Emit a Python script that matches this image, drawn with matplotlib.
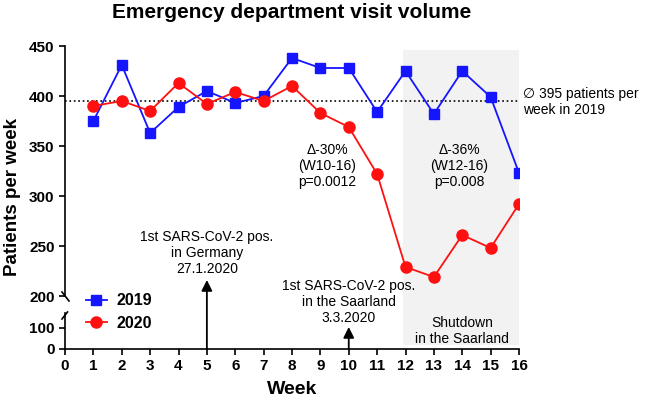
import numpy as np
import matplotlib
matplotlib.use("Agg")
import matplotlib.pyplot as plt
from matplotlib.patches import Rectangle
from matplotlib.lines import Line2D
import matplotlib.transforms as mtransforms

plt.rcParams['font.family'] = ['Liberation Sans', 'DejaVu Sans']

weeks = list(range(1, 17))
v2019 = [375, 431, 363, 389, 405, 393, 400, 438, 428, 428, 384, 425, 382, 425, 399, 323]
v2020 = [390, 395, 385, 413, 392, 404, 395, 410, 383, 369, 322, 229, 219, 261, 248, 292]
mean_2019 = 395
xticks = list(range(0, 17))

W, H = 645, 401
fig = plt.figure(figsize=(W / 100, H / 100), dpi=100)

def fx(px):
    return px / W

def fy(py):
    return 1 - py / H

# upper part 200-450, lower part 0-170 (broken axis)
ax_top = fig.add_axes([fx(65), fy(296), fx(519) - fx(65), fy(46) - fy(296)])
ax_bot = fig.add_axes([fx(65), fy(349), fx(519) - fx(65), fy(313) - fy(349)])
for ax in (ax_top, ax_bot):
    ax.set_facecolor('none')
    ax.set_xlim(0, 16)
    ax.spines['top'].set_visible(False)
    ax.spines['right'].set_visible(False)
    ax.spines['left'].set_linewidth(1.2)
    ax.spines['bottom'].set_linewidth(1.2)
    ax.tick_params(width=1.2, length=4, labelsize=11)
    for lab in ax.get_xticklabels() + ax.get_yticklabels():
        lab.set_fontweight('bold')

ax_top.set_ylim(200, 450)
ax_top.set_yticks([200, 250, 300, 350, 400, 450])
ax_top.spines['bottom'].set_visible(False)
ax_top.tick_params(axis='x', bottom=False, labelbottom=False)

ax_bot.set_ylim(0, 170)
ax_bot.set_yticks([0, 100])
ax_bot.set_xticks(xticks)
for ax in (ax_top, ax_bot):
    for lab in ax.get_xticklabels() + ax.get_yticklabels():
        lab.set_fontweight('bold')

# shutdown shading across both parts
trans = mtransforms.blended_transform_factory(ax_top.transData, fig.transFigure)
fig.add_artist(Rectangle((11.9, fy(345)), 16 - 11.9, fy(50) - fy(345),
                         transform=trans, facecolor='#f2f2f2', edgecolor='none', zorder=-1))

# break marks
fig.add_artist(Line2D([fx(62), fx(69)], [fy(292), fy(301)], color='k', lw=1.2))
fig.add_artist(Line2D([fx(62), fx(67.5)], [fy(319), fy(312)], color='k', lw=1.2))

ax_top.hlines(mean_2019, 0, 16, colors='k', linestyles=':', lw=1.2, zorder=1)
ax_top.plot(weeks, v2019, color='#1515ff', marker='s', markersize=7.5, lw=1.3,
            label='2019', zorder=3)
ax_top.plot(weeks, v2020, color='#ff1010', marker='o', markersize=8, lw=1.3,
            label='2020', zorder=3)

leg = ax_top.legend(loc='center left', bbox_to_anchor=(fx(86), fy(312)),
                    bbox_transform=fig.transFigure, frameon=False, borderpad=0,
                    borderaxespad=0, handlelength=1.3, handletextpad=0.6,
                    labelspacing=0.45, prop={'weight': 'bold', 'size': 11.5})

fs = 10
ax_top.text(9.25, 330, 'Δ-30%\n(W10-16)\np=0.0012', ha='center', va='center', fontsize=fs)
ax_top.text(13.9, 330, 'Δ-36%\n(W12-16)\np=0.008', ha='center', va='center', fontsize=fs)
ax_top.text(16.15, 394, '∅ 395 patients per\nweek in 2019', ha='left', va='center', fontsize=fs)
ax_top.text(5, 243, '1st SARS-CoV-2 pos.\nin Germany\n27.1.2020', ha='center', va='center', fontsize=fs)
ax_top.text(10, 194, '1st SARS-CoV-2 pos.\nin the Saarland\n3.3.2020', ha='center', va='center', fontsize=fs)
ax_top.text(14, 165, 'Shutdown\nin the Saarland', ha='center', va='center', fontsize=fs)

arrow = dict(arrowstyle='-|>', color='k', lw=1.3, mutation_scale=16, shrinkA=0, shrinkB=0)
ax_top.annotate('', xy=(5, 216), xytext=(5, 0), textcoords=ax_bot.transData,
                arrowprops=arrow, annotation_clip=False)
ax_bot.annotate('', xy=(10, 104), xytext=(10, 0), arrowprops=arrow, annotation_clip=False)

fig.text(fx(292), fy(13), 'Emergency department visit volume', ha='center', va='center',
         fontsize=15, fontweight='bold')
fig.text(fx(13), fy(197), 'Patients per week', ha='center', va='center', rotation=90,
         fontsize=13.5, fontweight='bold')
fig.text(fx(292), fy(390), 'Week', ha='center', va='center', fontsize=14, fontweight='bold')

plt.savefig('out.png', dpi=100)
